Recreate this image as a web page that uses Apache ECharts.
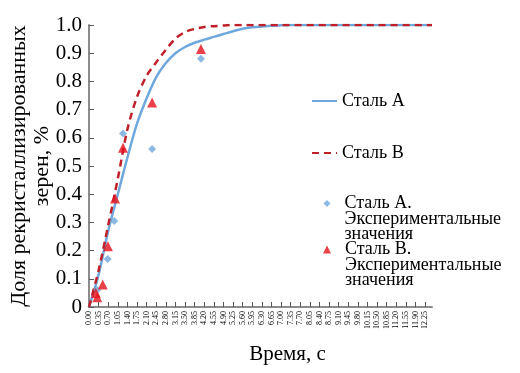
<!DOCTYPE html>
<html>
<head>
<meta charset="utf-8">
<script src="https://cdn.jsdelivr.net/npm/echarts@6/dist/echarts.min.js"></script>
<style>html,body{margin:0;padding:0;background:#fff}#c{width:520px;height:373px}</style>
</head>
<body>
<div id="c"></div>
<script>
// Model curves (time, s ; fraction)
const curveA = [[0,0],[0.35,0.115],[0.70,0.27],[1.05,0.40],[1.40,0.53],[1.75,0.65],[2.10,0.74],[2.45,0.815],[2.80,0.865],[3.15,0.90],[3.50,0.922],[3.85,0.937],[4.20,0.948],[4.55,0.958],[4.90,0.968],[5.25,0.978],[5.60,0.987],[5.95,0.992],[6.30,0.995],[6.65,0.997],[7.00,0.999],[7.35,1.0],[7.70,1.0],[8.75,1.0],[10.50,1.0],[12.50,1.0]];
const curveB = [[0,0],[0.35,0.13],[0.70,0.29],[1.05,0.455],[1.40,0.63],[1.75,0.745],[2.10,0.82],[2.45,0.868],[2.80,0.912],[3.15,0.952],[3.50,0.975],[3.85,0.986],[4.20,0.993],[4.55,0.996],[4.90,0.998],[5.25,1.0],[5.60,1.0],[7.00,1.0],[8.75,1.0],[10.50,1.0],[12.50,1.0]];
// Experimental values
const expA = [[0.30,0.06],[0.68,0.17],[0.92,0.305],[1.24,0.615],[2.30,0.56],[4.08,0.88]];
const expB = [[0.25,0.05],[0.30,0.035],[0.50,0.08],[0.69,0.215],[0.95,0.385],[1.24,0.565],[2.30,0.725],[4.08,0.915]];
// Axis ticks
const xTickStep = 0.35, xMin = 0, xMax = 12.5, xLastLabel = 12.25;
const yTickStep = 0.1, yMin = 0, yMax = 1.0;
const names = ['Сталь А', 'Сталь В', 'Сталь А.\nЭкспериментальные\nзначения', 'Сталь В.\nЭкспериментальные\nзначения'];

const FONT = 'Liberation Serif';
const blue = '#6FA8DC', darkRed = '#C0202A', red = '#E3101B';
const chart = echarts.init(document.getElementById('c'), null, {renderer: 'canvas'});
const legendBase = {orient: 'vertical', padding: 0, itemGap: 0, selectedMode: false,
  textStyle: {fontFamily: FONT, fontSize: 18, color: '#000', lineHeight: 15.5}};
const indent = s => '\n\n' + s.split('\n').map(l => '  ' + l).join('\n');
chart.setOption({
  animation: false,
  backgroundColor: '#fff',
  grid: {left: 89, right: 88, top: 25, bottom: 66, containLabel: false, outerBoundsMode: 'none'},
  xAxis: {
    type: 'value', min: xMin, max: xMax, interval: xTickStep,
    name: 'Время, с', nameLocation: 'middle', nameGap: 37,
    nameTextStyle: {fontFamily: FONT, fontSize: 21, color: '#000', padding: [0, 0, 0, 54]},
    axisLine: {show: true, lineStyle: {color: '#8C8C8C', width: 2}},
    axisTick: {show: true, inside: true, length: 5, lineStyle: {color: '#595959', width: 1}},
    axisLabel: {rotate: 90, fontFamily: FONT, fontSize: 8, color: '#000', margin: 4, showMaxLabel: false,
      formatter: v => (v > xLastLabel + 1e-6 ? '' : v.toFixed(2))},
    splitLine: {show: false}
  },
  yAxis: {
    type: 'value', min: yMin, max: yMax, interval: yTickStep,
    name: 'Доля рекристаллизированных\nзерен, %', nameLocation: 'middle', nameGap: 35, nameRotate: 90,
    nameMoveOverlap: false,
    nameTextStyle: {fontFamily: FONT, fontSize: 22, color: '#000', lineHeight: 23},
    axisLine: {show: true, lineStyle: {color: '#8C8C8C', width: 2}},
    axisTick: {show: true, inside: true, length: 5, lineStyle: {color: '#595959', width: 1}},
    axisLabel: {fontFamily: FONT, fontSize: 21, color: '#000', margin: 7,
      formatter: v => (v === 0 ? '0' : v.toFixed(1))},
    splitLine: {show: false}
  },
  legend: [
    Object.assign({}, legendBase, {data: [{name: names[0], itemStyle: {opacity: 0}}], left: 311, top: 92, itemWidth: 25, itemHeight: 14}),
    Object.assign({}, legendBase, {data: [{name: names[1], itemStyle: {opacity: 0}}], left: 311, top: 144, itemWidth: 25, itemHeight: 14}),
    Object.assign({}, legendBase, {data: [names[2]], left: 323.5, top: 163.5, itemWidth: 7, itemHeight: 7,
      formatter: indent}),
    Object.assign({}, legendBase, {data: [names[3]], left: 323, top: 209.5, itemWidth: 8, itemHeight: 8,
      formatter: indent})
  ],
  series: [
    {name: names[0], type: 'line', data: curveA, smooth: 0.3, symbol: 'none', z: 2,
      lineStyle: {color: blue, width: 2.5}, itemStyle: {color: blue}},
    {name: names[1], type: 'line', data: curveB, smooth: 0.3, symbol: 'none', z: 3,
      lineStyle: {color: darkRed, width: 2.5, type: [7, 5]}, itemStyle: {color: darkRed}},
    {name: names[2], type: 'scatter', data: expA, symbol: 'diamond', symbolSize: 8, z: 4,
      itemStyle: {color: blue}},
    {name: names[3], type: 'scatter', data: expB, symbol: 'triangle', symbolSize: 10, z: 5,
      itemStyle: {color: red}}
  ]
});
</script>
</body>
</html>
